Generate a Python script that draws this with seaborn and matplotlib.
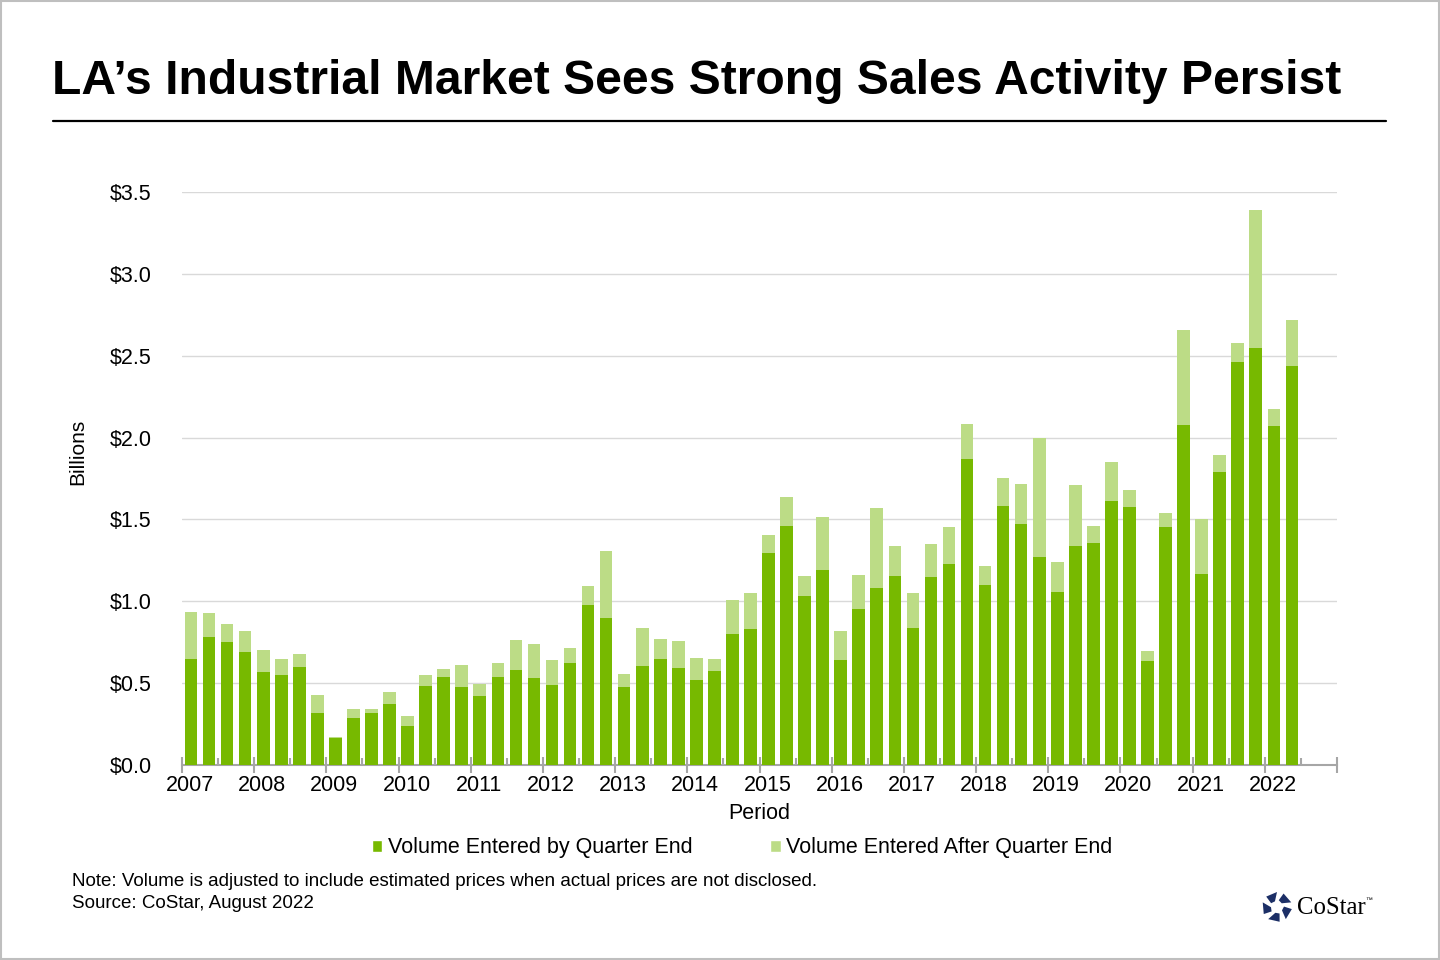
import matplotlib

matplotlib.use("Agg")
import matplotlib.pyplot as plt  # noqa: E402
import numpy as np  # noqa: E402
import pandas as pd  # noqa: E402
import seaborn as sns  # noqa: E402
from matplotlib.patches import Patch, Polygon, Rectangle  # noqa: E402
from matplotlib.lines import Line2D  # noqa: E402
from matplotlib.transforms import ScaledTranslation  # noqa: E402

# --- data (billions of $) ---
years = list(range(2007, 2023))
quarters = [f"{y} Q{q}" for y in years for q in range(1, 5)][:62]

entered_by_qe = [
    0.645, 0.78, 0.75, 0.69, 0.57, 0.55, 0.60, 0.32,
    0.165, 0.285, 0.315, 0.375, 0.24, 0.485, 0.535, 0.475,
    0.42, 0.54, 0.578, 0.53, 0.486, 0.621, 0.977, 0.897,
    0.475, 0.604, 0.647, 0.593, 0.518, 0.573, 0.799, 0.829,
    1.294, 1.459, 1.031, 1.19, 0.64, 0.952, 1.08, 1.153,
    0.836, 1.147, 1.228, 1.868, 1.098, 1.582, 1.471, 1.27,
    1.055, 1.335, 1.355, 1.611, 1.575, 0.634, 1.451, 2.075,
    1.166, 1.79, 2.463, 2.547, 2.071, 2.438,
]
entered_after_qe = [
    0.29, 0.15, 0.11, 0.13, 0.13, 0.10, 0.08, 0.11,
    0.006, 0.055, 0.03, 0.068, 0.06, 0.062, 0.05, 0.133,
    0.072, 0.08, 0.183, 0.207, 0.153, 0.091, 0.115, 0.409,
    0.079, 0.232, 0.121, 0.163, 0.134, 0.073, 0.208, 0.223,
    0.11, 0.177, 0.122, 0.324, 0.177, 0.208, 0.489, 0.184,
    0.214, 0.201, 0.224, 0.215, 0.117, 0.17, 0.245, 0.728,
    0.188, 0.375, 0.104, 0.24, 0.104, 0.06, 0.087, 0.583,
    0.339, 0.104, 0.116, 0.844, 0.104, 0.281,
]
y_ticks = [0.0, 0.5, 1.0, 1.5, 2.0, 2.5, 3.0, 3.5]

DARK = "#77B900"
LIGHT = "#BCDC86"
AXIS_GREY = "#A6A6A6"
FS = 15.5

sns.set_style("white")
plt.rcParams["font.family"] = ["Liberation Sans", "DejaVu Sans"]
plt.rcParams["text.color"] = "black"
plt.rcParams["axes.labelcolor"] = "black"
plt.rcParams["xtick.color"] = "black"
plt.rcParams["ytick.color"] = "black"

df = pd.DataFrame({"quarter": quarters, "by_qe": entered_by_qe, "after_qe": entered_after_qe})
df["total"] = df["by_qe"] + df["after_qe"]

fig = plt.figure(figsize=(14.4, 9.6), dpi=100)
ax = fig.add_axes([182 / 1440, 1 - 765 / 960, 1155 / 1440, 573 / 960])

# stacked: totals in light green, then the by-quarter-end part on top in dark green
sns.barplot(data=df, x="quarter", y="total", order=quarters, color=LIGHT, width=0.7,
            saturation=1, linewidth=0, ax=ax, zorder=2)
sns.barplot(data=df, x="quarter", y="by_qe", order=quarters, color=DARK, width=0.7,
            saturation=1, linewidth=0, ax=ax, zorder=3)

ax.set_xlim(-0.5, 63.5)
ax.set_ylim(0, 3.5)
ax.set_yticks(y_ticks)
ax.set_yticklabels([f"${v:.1f}" for v in y_ticks], fontsize=FS)
ax.yaxis.grid(True, color="#D9D9D9", linewidth=1, zorder=0)
ax.set_axisbelow(True)
ax.tick_params(axis="y", length=0, pad=22)

year_pos = [(y - 2007) * 4 - 0.5 for y in years] + [63.5]
ax.set_xticks(year_pos)
ax.set_xticklabels([str(y) for y in years] + [""], fontsize=FS)
ax.set_xticks([p + 2 for p in year_pos[:-1]], minor=True)
ax.tick_params(axis="x", which="major", bottom=True, direction="inout", length=12, width=1.5,
               color=AXIS_GREY, labelcolor="black", pad=1)
ax.tick_params(axis="x", which="minor", bottom=True, direction="in", length=5, width=1.5,
               color=AXIS_GREY)
for lbl in ax.get_xticklabels():
    lbl.set_transform(lbl.get_transform() + ScaledTranslation(0.08, 0, fig.dpi_scale_trans))

for side in ["top", "right", "left"]:
    ax.spines[side].set_visible(False)
ax.spines["bottom"].set_color(AXIS_GREY)
ax.spines["bottom"].set_linewidth(1.5)

ax.set_xlabel("Period", fontsize=FS, labelpad=5)
ax.set_ylabel("")
fig.text(78 / 1440, 1 - 452 / 960, "Billions", rotation=90, fontsize=15,
         ha="center", va="center")

# title + rule
fig.text(52 / 1440, 1 - 81 / 960, "LA’s Industrial Market Sees Strong Sales Activity Persist",
         fontsize=34.6, fontweight="bold", ha="left", va="center")
fig.add_artist(Line2D([53 / 1440, 1386 / 1440], [1 - 121 / 960, 1 - 121 / 960],
                      color="black", linewidth=1.6, transform=fig.transFigure))

# legend
handles = [
    Patch(facecolor=DARK, label="Volume Entered by Quarter End"),
    Patch(facecolor=LIGHT, label="Volume Entered After Quarter End"),
]
fig.legend(handles=handles, loc="center", bbox_to_anchor=(742 / 1440, 1 - 848 / 960),
           ncol=2, frameon=False, fontsize=FS, handlelength=0.5, handleheight=0.5,
           handletextpad=0.25, columnspacing=3.6)

# notes
fig.text(72 / 1440, 1 - 881 / 960,
         "Note: Volume is adjusted to include estimated prices when actual prices are not disclosed.",
         fontsize=13.5, ha="left", va="center")
fig.text(72 / 1440, 1 - 904 / 960, "Source: CoStar, August 2022", fontsize=13.5,
         ha="left", va="center")

# CoStar logo: ring of five navy blocks + wordmark
NAVY = "#1C2F66"
cx, cy = 1277, 907
for k in range(5):
    a0 = np.deg2rad(90 + 72 * k)
    a1 = a0 + np.deg2rad(46)
    pts = [
        (cx + 6 * np.cos(a0 + 0.35), cy - 6 * np.sin(a0 + 0.35)),
        (cx + 15 * np.cos(a0), cy - 15 * np.sin(a0)),
        (cx + 15 * np.cos(a1), cy - 15 * np.sin(a1)),
        (cx + 7 * np.cos(a1 + 0.2), cy - 7 * np.sin(a1 + 0.2)),
    ]
    pts = [(x / 1440, 1 - y / 960) for x, y in pts]
    fig.add_artist(Polygon(pts, closed=True, facecolor=NAVY, edgecolor="none",
                           transform=fig.transFigure))
fig.text(1297 / 1440, 1 - 908 / 960, "CoStar", fontsize=17.8, color="black",
         family=["Liberation Serif", "DejaVu Serif"], ha="left", va="center")
fig.text(1365 / 1440, 1 - 901 / 960, "™", fontsize=5, color="black", ha="left", va="center")

# thin frame around the whole image
fig.add_artist(Rectangle((0.0005, 0.0008), 0.999, 0.9985, transform=fig.transFigure,
                         fill=False, edgecolor="#BFBFBF", linewidth=1.5))

fig.savefig("out.png", dpi=100)
plt.close(fig)
